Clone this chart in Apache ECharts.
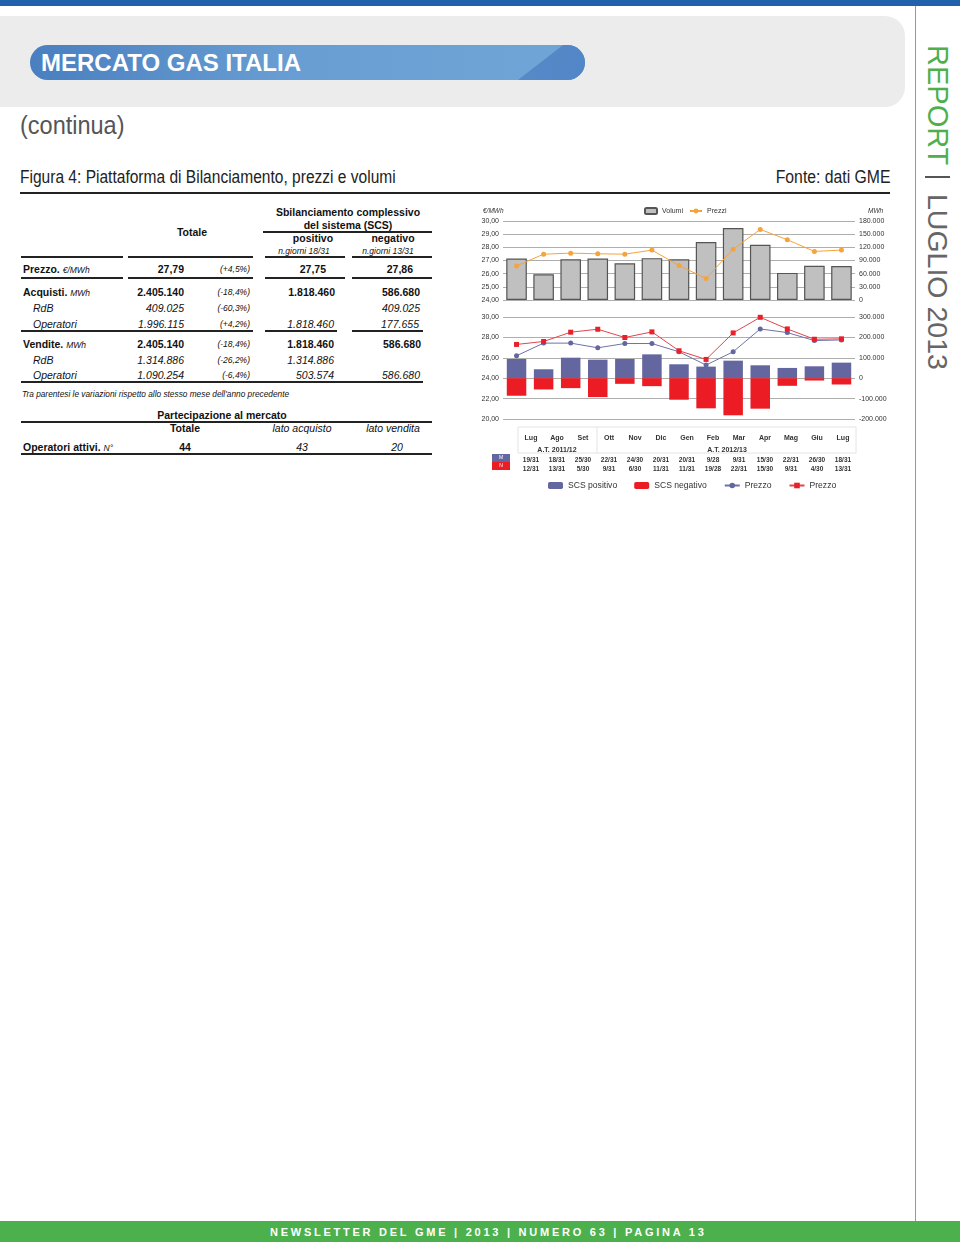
<!DOCTYPE html>
<html><head><meta charset="utf-8">
<script src="https://cdn.jsdelivr.net/npm/echarts@6/dist/echarts.min.js"></script>
<style>
html,body{margin:0;padding:0;background:#fff;}
body{width:960px;height:1242px;position:relative;overflow:hidden;font-family:"Liberation Sans",Arial,sans-serif;color:#111;}
.a{position:absolute;white-space:nowrap;}
.ln{position:absolute;background:#222;height:1.5px;}
.u{font-weight:normal;font-style:italic;font-size:8.5px;}
.nar{transform-origin:0 50%;}
</style></head><body>
<div class="a" style="left:0;top:0;width:960px;height:6px;background:#1f62ab;"></div>
<div class="a" style="left:0;top:16px;width:905px;height:91px;background:#ececec;border-radius:0 20px 20px 0;"></div>
<div class="a" style="left:915px;top:6px;width:1px;height:1215px;background:#8a9aa8;"></div>
<div class="a" style="left:30px;top:45px;width:555px;height:35px;border-radius:18px;overflow:hidden;background:linear-gradient(90deg,#4a7fc0 0%,#679dd2 45%,#6fa4d6 90%);">
  <div style="position:absolute;left:0;top:0;width:555px;height:35px;background:linear-gradient(90deg,#6a9fd4,#5286c6);clip-path:polygon(488px 35px,533px 0,555px 0,555px 35px);"></div>
</div>
<div class="a" style="left:41px;top:49px;font-size:24px;line-height:28px;font-weight:bold;color:#fff;">MERCATO GAS ITALIA</div>
<div class="a nar" style="left:20px;top:110px;font-size:25px;line-height:30px;color:#555;transform:scaleX(0.94);">(continua)</div>
<div class="a nar" style="left:20px;top:167px;font-size:17.5px;line-height:21px;color:#222;transform:scaleX(0.888);">Figura 4: Piattaforma di Bilanciamento, prezzi e volumi</div>
<div class="a" style="right:70px;top:167px;font-size:17.5px;line-height:21px;color:#222;transform:scaleX(0.9);transform-origin:100% 50%;">Fonte: dati GME</div>
<div class="a" style="left:20px;top:192px;width:870px;height:2px;background:#222;"></div>
<div class="a" style="left:922px;top:45px;writing-mode:vertical-rl;font-size:29px;line-height:32px;color:#4db04d;">REPORT</div>
<div class="a" style="left:925px;top:176px;width:25px;height:2px;background:#555;"></div>
<div class="a" style="left:922px;top:194px;writing-mode:vertical-rl;font-size:28.5px;line-height:32px;color:#666;">LUGLIO 2013</div>
<div class="a" style="left:0;top:1221px;width:960px;height:21px;background:#4cb04c;"></div>
<div class="a" style="left:270px;top:1226px;font-size:11px;line-height:13px;font-weight:bold;color:#fff;letter-spacing:2.75px;">NEWSLETTER DEL GME | 2013 | NUMERO 63 | PAGINA 13</div>
<div id="tbl"></div>
<div id="chart" style="position:absolute;left:475px;top:200px;width:420px;height:300px;"></div>
<script>
// ---- chart data ----
const months = ['Lug','Ago','Set','Ott','Nov','Dic','Gen','Feb','Mar','Apr','Mag','Giu','Lug'];
const volumi = [94600, 58700, 93000, 94600, 83900, 95300, 93000, 132000, 164000, 125800, 61800, 77800, 77600];
const prezzi = [26.59, 27.48, 27.56, 27.51, 27.48, 27.79, 26.62, 25.63, 27.86, 29.36, 28.58, 27.69, 27.79];
const scsPositivo = [94200, 43800, 100600, 90900, 94200, 116900, 68200, 56800, 86000, 63300, 50300, 58400, 76300];
const scsNegativo = [-86000, -55200, -48700, -92500, -27600, -39000, -105500, -147700, -181800, -149400, -37300, -11400, -30800];
const prezzoPositivo = [26.20, 27.44, 27.44, 26.98, 27.40, 27.40, 26.59, 25.29, 26.59, 28.83, 28.47, 27.69, 27.75];
const prezzoNegativo = [27.31, 27.60, 28.51, 28.80, 27.99, 28.54, 26.69, 25.84, 28.44, 29.97, 28.83, 27.82, 27.86];
const giorniPositivo = ['19/31','18/31','25/30','22/31','24/30','20/31','20/31','9/28','9/31','15/30','22/31','26/30','18/31'];
const giorniNegativo = ['12/31','13/31','5/30','9/31','6/30','11/31','11/31','19/28','22/31','15/30','9/31','4/30','13/31'];

// ---- table (HTML text) ----
const tbl = document.getElementById('tbl');
function T(x, y, txt, o) {
  o = o || {};
  const fs = o.fs || 10.5;
  const d = document.createElement('div');
  d.className = 'a';
  d.innerHTML = txt;
  d.style.fontSize = fs + 'px';
  d.style.lineHeight = Math.round(fs * 1.2) + 'px';
  d.style.top = (y - fs * 0.6) + 'px';
  d.style.left = x + 'px';
  if (o.b) d.style.fontWeight = 'bold';
  if (o.i) d.style.fontStyle = 'italic';
  if (o.al === 'r') d.style.transform = 'translateX(-100%)';
  if (o.al === 'c') d.style.transform = 'translateX(-50%)';
  tbl.appendChild(d);
}
function L(x1, x2, y) {
  const d = document.createElement('div');
  d.className = 'ln';
  d.style.left = x1 + 'px'; d.style.width = (x2 - x1) + 'px'; d.style.top = y + 'px';
  tbl.appendChild(d);
}
T(192, 232, 'Totale', {b:1, al:'c'});
T(348, 212, 'Sbilanciamento complessivo', {b:1, al:'c'});
T(348, 225, 'del sistema (SCS)', {b:1, al:'c'});
L(263, 432, 231);
T(313, 238, 'positivo', {b:1, al:'c'});
T(393, 238, 'negativo', {b:1, al:'c'});
T(304, 251, 'n.giorni 18/31', {i:1, fs:8.5, al:'c'});
T(388, 251, 'n.giorni 13/31', {i:1, fs:8.5, al:'c'});
[[21,123],[128,253],[265,345],[352,432]].forEach(s => { L(s[0], s[1], 256); L(s[0], s[1], 277); });
T(23, 269, 'Prezzo. <span class="u">€/MWh</span>', {b:1});
T(184, 269, '27,79', {b:1, al:'r'});
T(250, 269, '(+4,5%)', {i:1, fs:8.5, al:'r'});
T(326, 269, '27,75', {b:1, al:'r'});
T(413, 269, '27,86', {b:1, al:'r'});

T(23, 292, 'Acquisti. <span class="u">MWh</span>', {b:1});
T(184, 292, '2.405.140', {b:1, al:'r'});
T(250, 292, '(-18,4%)', {i:1, fs:8.5, al:'r'});
T(335, 292, '1.818.460', {b:1, al:'r'});
T(420, 292, '586.680', {b:1, al:'r'});
T(33, 308, 'RdB', {i:1});
T(184, 308, '409.025', {i:1, al:'r'});
T(250, 308, '(-60,3%)', {i:1, fs:8.5, al:'r'});
T(420, 308, '409.025', {i:1, al:'r'});
T(33, 324, 'Operatori', {i:1});
T(184, 324, '1.996.115', {i:1, al:'r'});
T(250, 324, '(+4,2%)', {i:1, fs:8.5, al:'r'});
T(334, 324, '1.818.460', {i:1, al:'r'});
T(419, 324, '177.655', {i:1, al:'r'});
L(21, 253, 330); L(265, 337, 330); L(352, 423, 330);

T(23, 344, 'Vendite. <span class="u">MWh</span>', {b:1});
T(184, 344, '2.405.140', {b:1, al:'r'});
T(250, 344, '(-18,4%)', {i:1, fs:8.5, al:'r'});
T(334, 344, '1.818.460', {b:1, al:'r'});
T(421, 344, '586.680', {b:1, al:'r'});
T(33, 360, 'RdB', {i:1});
T(184, 360, '1.314.886', {i:1, al:'r'});
T(250, 360, '(-26,2%)', {i:1, fs:8.5, al:'r'});
T(334, 360, '1.314.886', {i:1, al:'r'});
T(33, 375, 'Operatori', {i:1});
T(184, 375, '1.090.254', {i:1, al:'r'});
T(250, 375, '(-6,4%)', {i:1, fs:8.5, al:'r'});
T(334, 375, '503.574', {i:1, al:'r'});
T(420, 375, '586.680', {i:1, al:'r'});
L(21, 423, 381);
T(22, 394, "Tra parentesi le variazioni rispetto allo stesso mese dell'anno precedente", {i:1, fs:8.3});

T(222, 415, 'Partecipazione al mercato', {b:1, al:'c'});
L(21, 432, 421);
T(185, 428, 'Totale', {b:1, al:'c'});
T(302, 428, 'lato acquisto', {i:1, al:'c'});
T(393, 428, 'lato vendita', {i:1, al:'c'});
T(23, 447, 'Operatori attivi. <span class="u">N°</span>', {b:1});
T(185, 447, '44', {b:1, al:'c'});
T(302, 447, '43', {i:1, al:'c'});
T(397, 447, '20', {i:1, al:'c'});
L(21, 432, 453);

// ---- chart ----
const fmtEur = v => v.toFixed(2).replace('.', ',');
const fmtMwh = v => (v < 0 ? '-' : '') + String(Math.abs(v)).replace(/\B(?=(\d{3})+(?!\d))/g, '.');
const lab = {fontSize: 7, color: '#333', fontFamily: 'Liberation Sans'};
const split = {show: true, lineStyle: {color: '#aeaeae', width: 1.2}};
const hid = {show: false};

const chart = echarts.init(document.getElementById('chart'), null, {renderer: 'canvas'});
chart.setOption({
  animation: false,
  textStyle: {fontFamily: 'Liberation Sans'},
  grid: [
    {left: 28, width: 352, top: 21, height: 79},
    {left: 28, width: 352, top: 117, height: 102},
    {left: 43, width: 338, top: 227, height: 1}
  ],
  legend: [
    {left: 169, top: 7, padding: 0, itemWidth: 12, itemHeight: 6, itemGap: 6,
     textStyle: {fontSize: 7, color: '#333'}, data: ['Volumi', 'Prezzi']},
    {left: 73, top: 281, padding: 0, itemWidth: 15, itemHeight: 7, itemGap: 17,
     textStyle: {fontSize: 8.6, color: '#333'},
     formatter: n => n.trim(),
     data: ['SCS positivo', 'SCS negativo', 'Prezzo', 'Prezzo ']}
  ],
  xAxis: [
    {type: 'category', gridIndex: 0, data: months, axisLine: hid, axisTick: hid, axisLabel: hid},
    {type: 'category', gridIndex: 1, data: months, axisLine: hid, axisTick: hid, axisLabel: hid},
    {type: 'category', gridIndex: 2, data: months, position: 'bottom', axisLine: hid, axisTick: hid,
     axisLabel: {interval: 0, margin: 7, fontSize: 7, fontWeight: 'bold', color: '#333'}},
    {type: 'category', gridIndex: 2, data: giorniPositivo, position: 'bottom', offset: 29, axisLine: hid, axisTick: hid,
     axisLabel: {interval: 0, margin: 0, fontSize: 6.5, fontWeight: 'bold', color: '#333'}},
    {type: 'category', gridIndex: 2, data: giorniNegativo, position: 'bottom', offset: 38, axisLine: hid, axisTick: hid,
     axisLabel: {interval: 0, margin: 0, fontSize: 6.5, fontWeight: 'bold', color: '#333'}}
  ],
  yAxis: [
    {type: 'value', gridIndex: 0, min: 24, max: 30, interval: 1, axisLine: hid, axisTick: hid,
     axisLabel: Object.assign({margin: 4, formatter: fmtEur}, lab), splitLine: split},
    {type: 'value', gridIndex: 0, min: 0, max: 180000, interval: 30000, position: 'right', axisLine: hid, axisTick: hid,
     axisLabel: Object.assign({margin: 4, formatter: fmtMwh}, lab), splitLine: hid},
    {type: 'value', gridIndex: 1, min: 20, max: 30, interval: 2, axisLine: hid, axisTick: hid,
     axisLabel: Object.assign({margin: 4, formatter: fmtEur}, lab), splitLine: split},
    {type: 'value', gridIndex: 1, min: -200000, max: 300000, interval: 100000, position: 'right', axisLine: hid, axisTick: hid,
     axisLabel: Object.assign({margin: 4, formatter: fmtMwh}, lab), splitLine: hid},
    {type: 'value', gridIndex: 2, show: false, min: 0, max: 1}
  ],
  series: [
    {name: 'Volumi', type: 'bar', xAxisIndex: 0, yAxisIndex: 1, data: volumi, barWidth: '76%',
     itemStyle: {color: '#c0c0c0', borderColor: '#555', borderWidth: 1.2}},
    {name: 'Prezzi', type: 'line', xAxisIndex: 0, yAxisIndex: 0, data: prezzi, symbol: 'circle', symbolSize: 5,
     lineStyle: {color: '#f4a43c', width: 1}, itemStyle: {color: '#f4a43c'}},
    {name: 'SCS positivo', type: 'bar', stack: 'scs', xAxisIndex: 1, yAxisIndex: 3, data: scsPositivo, barWidth: '72%',
     itemStyle: {color: '#6466a0'}},
    {name: 'SCS negativo', type: 'bar', stack: 'scs', xAxisIndex: 1, yAxisIndex: 3, data: scsNegativo, barWidth: '72%',
     itemStyle: {color: '#ec1c24'}},
    {name: 'Prezzo', type: 'line', xAxisIndex: 1, yAxisIndex: 2, data: prezzoPositivo, symbol: 'circle', symbolSize: 5,
     lineStyle: {color: '#6e72a8', width: 1}, itemStyle: {color: '#6466a0'}},
    {name: 'Prezzo ', type: 'line', xAxisIndex: 1, yAxisIndex: 2, data: prezzoNegativo, symbol: 'rect', symbolSize: 5,
     lineStyle: {color: '#e0454c', width: 1}, itemStyle: {color: '#e8202a'}}
  ],
  graphic: [
    {type: 'text', left: 8, top: 8, style: {text: '€/MWh', fontSize: 6.5, fontStyle: 'italic', fill: '#333'}},
    {type: 'text', left: 393, top: 8, style: {text: 'MWh', fontSize: 6.5, fontStyle: 'italic', fill: '#333'}},
    {type: 'rect', shape: {x: 43, y: 227, width: 338, height: 26}, style: {fill: 'none', stroke: '#e4e4e4', lineWidth: 1}, silent: true},
    {type: 'line', shape: {x1: 122, y1: 227, x2: 122, y2: 253}, style: {stroke: '#e4e4e4', lineWidth: 1}},
    {type: 'text', x: 82, y: 250, style: {text: 'A.T. 2011/12', fontSize: 7, fontWeight: 'bold', fill: '#333', align: 'center', verticalAlign: 'middle'}},
    {type: 'text', x: 252, y: 250, style: {text: 'A.T. 2012/13', fontSize: 7, fontWeight: 'bold', fill: '#333', align: 'center', verticalAlign: 'middle'}},
    {type: 'rect', shape: {x: 17, y: 254, width: 18, height: 8}, style: {fill: '#6466a0'}},
    {type: 'rect', shape: {x: 17, y: 262, width: 18, height: 8}, style: {fill: '#ec1c24'}},
    {type: 'text', x: 26, y: 258, style: {text: 'M', fontSize: 5, fill: '#fff', align: 'center', verticalAlign: 'middle'}},
    {type: 'text', x: 26, y: 266, style: {text: 'N', fontSize: 5, fill: '#fff', align: 'center', verticalAlign: 'middle'}}
  ]
});
</script>
</body></html>
